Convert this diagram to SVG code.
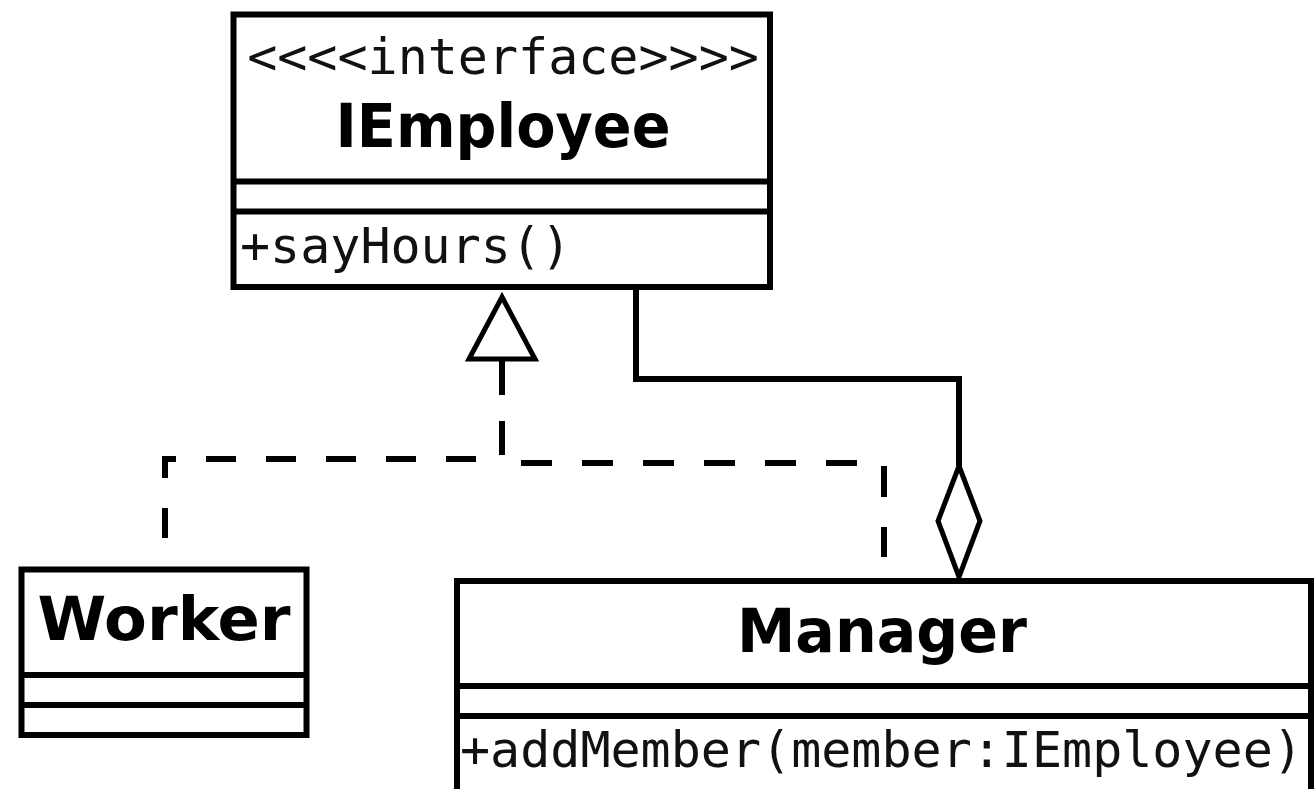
<svg xmlns="http://www.w3.org/2000/svg" width="1316" height="789" viewBox="0 0 1316 789">
  <style>
    .box { fill: #ffffff; stroke: #000000; stroke-width: 6; }
    .sep { stroke: #000000; stroke-width: 6; }
    .title { font-family: "DejaVu Sans", "Liberation Sans", sans-serif; font-weight: bold; font-size: 60px; fill: #000000; text-anchor: middle; }
    .mono { font-family: "DejaVu Sans Mono", "Liberation Mono", monospace; font-size: 50px; fill: #111111; }
    .solid { fill: none; stroke: #000000; stroke-width: 6; stroke-linejoin: miter; }
    .dash { fill: none; stroke: #000000; stroke-width: 6; stroke-dasharray: 30 30; }
    .head { fill: #ffffff; stroke: #000000; stroke-width: 5; stroke-linejoin: miter; }
  </style>

  <!-- connectors: realization (dashed, hollow triangle) and aggregation (solid, hollow diamond) -->
  <g id="connectors">
    <path class="dash" d="M165,538 V459 H502 V360"/>
    <path class="dash" style="stroke-dasharray: 31 30" d="M502,360 V463 H884 V557"/>
    <polygon class="head" points="502,297 535,359 469,359"/>
    <path class="solid" d="M636,290 V379 H959 V466"/>
    <polygon class="head" points="959,466 980,521 959,577 938,521"/>
  </g>

  <!-- interface IEmployee -->
  <g id="IEmployee">
    <rect class="box" x="233.5" y="14.5" width="536.5" height="272.5"/>
    <line class="sep" x1="233.5" y1="181.5" x2="770" y2="181.5"/>
    <line class="sep" x1="233.5" y1="211.5" x2="770" y2="211.5"/>
    <text class="mono" x="503" y="74" text-anchor="middle">&lt;&lt;&lt;&lt;interface&gt;&gt;&gt;&gt;</text>
    <text class="title" x="503" y="147" textLength="335" lengthAdjust="spacingAndGlyphs">IEmployee</text>
    <text class="mono" x="240" y="263">+sayHours()</text>
  </g>

  <!-- class Worker -->
  <g id="Worker">
    <rect class="box" x="21.5" y="569.5" width="285" height="165.5"/>
    <line class="sep" x1="21.5" y1="675" x2="306.5" y2="675"/>
    <line class="sep" x1="21.5" y1="705" x2="306.5" y2="705"/>
    <text class="title" x="164" y="640" textLength="253" lengthAdjust="spacingAndGlyphs">Worker</text>
  </g>

  <!-- class Manager -->
  <g id="Manager">
    <rect class="box" x="457" y="581" width="854" height="220"/>
    <line class="sep" x1="457" y1="686" x2="1311" y2="686"/>
    <line class="sep" x1="457" y1="716" x2="1311" y2="716"/>
    <text class="title" x="882" y="652" textLength="290" lengthAdjust="spacingAndGlyphs">Manager</text>
    <text class="mono" x="460" y="767">+addMember(member:IEmployee)</text>
  </g>
</svg>
